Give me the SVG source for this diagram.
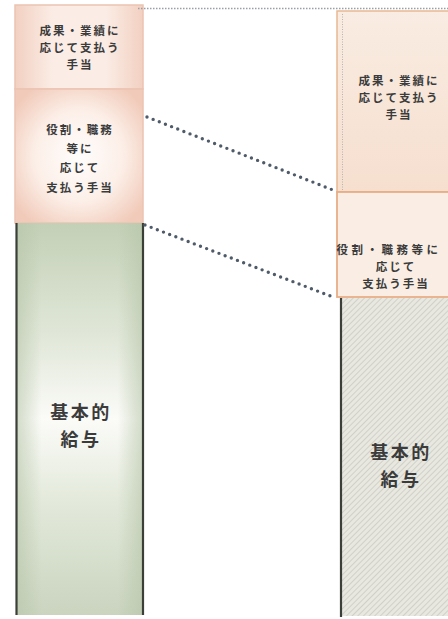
<svg xmlns="http://www.w3.org/2000/svg" width="448" height="619" viewBox="0 0 448 619">
  <defs>
    <linearGradient id="gPeachH" x1="0" y1="0" x2="1" y2="0">
      <stop offset="0" stop-color="#f2d0c1"/>
      <stop offset="0.3" stop-color="#fbede6"/>
      <stop offset="0.7" stop-color="#fbede6"/>
      <stop offset="1" stop-color="#f2d0c1"/>
    </linearGradient>
    <radialGradient id="gPeachR" cx="0.5" cy="0.5" r="0.62">
      <stop offset="0" stop-color="#fffdfc"/>
      <stop offset="0.55" stop-color="#fcefe8"/>
      <stop offset="1" stop-color="#f1cab9"/>
    </radialGradient>
    <linearGradient id="gGreen" x1="0" y1="0" x2="0" y2="1">
      <stop offset="0" stop-color="#c3d0b6"/>
      <stop offset="0.3" stop-color="#e2e8da"/>
      <stop offset="0.5" stop-color="#fbfbf8"/>
      <stop offset="0.7" stop-color="#e4eadc"/>
      <stop offset="1" stop-color="#cad4bf"/>
    </linearGradient>
    <linearGradient id="gGreenH" x1="0" y1="0" x2="1" y2="0">
      <stop offset="0" stop-color="#b5c4a7" stop-opacity="0.6"/>
      <stop offset="0.2" stop-color="#b5c4a7" stop-opacity="0"/>
      <stop offset="0.8" stop-color="#b5c4a7" stop-opacity="0"/>
      <stop offset="1" stop-color="#b5c4a7" stop-opacity="0.6"/>
    </linearGradient>
    <linearGradient id="gRTop" x1="0" y1="0" x2="0" y2="1">
      <stop offset="0" stop-color="#f9ece2"/>
      <stop offset="1" stop-color="#f6dfcf"/>
    </linearGradient>
    <pattern id="hatch" width="4" height="4" patternUnits="userSpaceOnUse" patternTransform="rotate(45)">
      <rect width="4" height="4" fill="#e8e8e1"/>
      <line x1="0" y1="0" x2="0" y2="4" stroke="#c6c6bd" stroke-width="1.4"/>
    </pattern>
  </defs>
  <style>
    .t { font-family: "Noto Sans CJK JP", "Noto Sans CJK SC", sans-serif; font-weight: bold; fill: #3b3b3b; text-anchor: middle; }
    .s { font-size: 11.5px; letter-spacing: 2px; }
    .w { letter-spacing: 3.5px; }
    .b { font-size: 18px; letter-spacing: 2.5px; }
    .dots { fill: none; stroke: #4f5b68; stroke-width: 3.4; stroke-linecap: round; stroke-dasharray: 0 6.6; }
    .edge { fill: none; stroke: #3a3f38; stroke-width: 2.2; }
  </style>
  <rect width="448" height="619" fill="#ffffff"/>

  <g id="left-bonus">
    <rect x="15" y="5" width="128" height="84" fill="url(#gPeachH)" stroke="#ecc3b2" stroke-width="1.5"/>
    <text class="t s" x="80" y="35">成果・業績に</text>
    <text class="t s" x="80" y="52">応じて支払う</text>
    <text class="t s" x="80" y="69">手当</text>
  </g>

  <g id="left-role">
    <rect x="15" y="89" width="128" height="134" fill="url(#gPeachR)" stroke="#ecc3b2" stroke-width="1.5"/>
    <text class="t s" x="80" y="134">役割・職務</text>
    <text class="t s" x="80" y="152.5">等に</text>
    <text class="t s" x="80" y="171.5">応じて</text>
    <text class="t s" x="80" y="192">支払う手当</text>
  </g>

  <g id="left-base">
    <rect x="16" y="223" width="127" height="392" fill="url(#gGreen)"/>
    <rect x="16" y="223" width="127" height="392" fill="url(#gGreenH)"/>
    <line class="edge" x1="16.5" y1="223" x2="16.5" y2="615"/>
    <line class="edge" x1="143" y1="223" x2="143" y2="615"/>
    <text class="t b" x="81" y="419">基本的</text>
    <text class="t b" x="81" y="445.5">給与</text>
  </g>

  <g id="right-bonus">
    <rect x="337" y="11" width="115" height="181" fill="url(#gRTop)" stroke="#e8b893" stroke-width="1.5"/>
    <line x1="342.5" y1="14" x2="342.5" y2="190" stroke="#b9b3ad" stroke-width="1" stroke-dasharray="1 1.5"/>
    <text class="t s" x="399" y="85">成果・業績に</text>
    <text class="t s" x="399" y="102">応じて支払う</text>
    <text class="t s" x="399" y="119">手当</text>
  </g>

  <g id="right-role">
    <rect x="337" y="192" width="115" height="105" fill="#faeee4" stroke="#e7ad86" stroke-width="1.8"/>
    <text class="t s w" x="389" y="254">役割・職務等に</text>
    <text class="t s" x="396" y="270.5">応じて</text>
    <text class="t s" x="396" y="287.5">支払う手当</text>
  </g>

  <g id="right-base">
    <rect x="340" y="298" width="112" height="318" fill="url(#hatch)"/>
    <line class="edge" x1="341" y1="298" x2="341" y2="617"/>
    <text class="t b" x="401" y="459">基本的</text>
    <text class="t b" x="401" y="485.5">給与</text>
  </g>

  <g id="connectors">
    <line x1="138" y1="8.5" x2="448" y2="8.5" stroke="#9a9fa5" stroke-width="1.6" stroke-dasharray="1.5 1.5"/>
    <line class="dots" x1="147" y1="117" x2="333" y2="190"/>
    <line class="dots" x1="145" y1="225" x2="333" y2="297"/>
  </g>
</svg>
